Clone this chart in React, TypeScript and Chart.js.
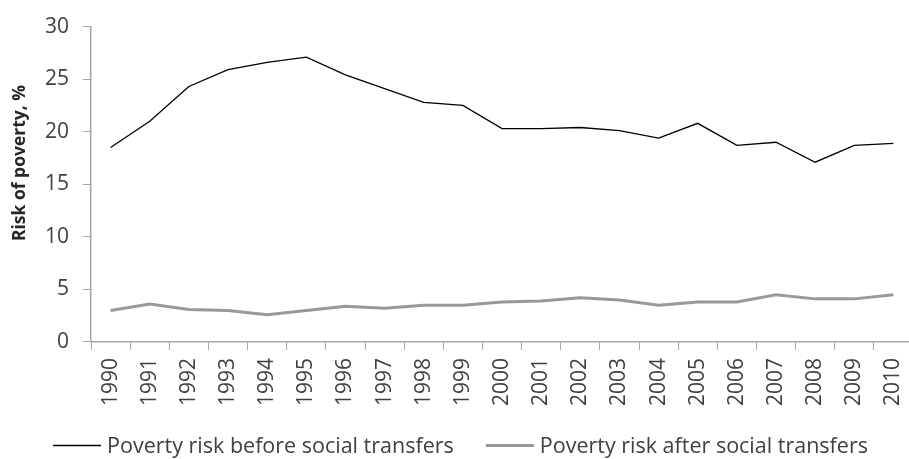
import React, { useEffect, useRef } from "react";
import { Chart, registerables } from "chart.js";

Chart.register(...registerables);

const years = [
  "1990", "1991", "1992", "1993", "1994", "1995", "1996", "1997", "1998", "1999", "2000",
  "2001", "2002", "2003", "2004", "2005", "2006", "2007", "2008", "2009", "2010",
];

const beforeTransfers = [
  18.5, 21.0, 24.3, 25.9, 26.6, 27.1, 25.4, 24.1, 22.8, 22.5, 20.3,
  20.3, 20.4, 20.1, 19.4, 20.8, 18.7, 19.0, 17.1, 18.7, 18.9,
];

const afterTransfers = [
  3.0, 3.6, 3.1, 3.0, 2.6, 3.0, 3.4, 3.2, 3.5, 3.5, 3.8,
  3.9, 4.2, 4.0, 3.5, 3.8, 3.8, 4.5, 4.1, 4.1, 4.5,
];

const yTicks = [0, 5, 10, 15, 20, 25, 30];
const yTitle = "Risk of poverty, %";
const seriesNames = ["Poverty risk before social transfers", "Poverty risk after social transfers"];

const FONT = "'Open Sans', sans-serif";
const TEXT = "#404040";
const AXIS = "#a6a6a6";
const W = 937;
const H = 459;

// Rotated bold y title and a bottom legend drawn on the canvas
const decorations = {
  id: "decorations",
  afterDraw(chart: any) {
    const ctx = chart.ctx as CanvasRenderingContext2D;
    ctx.save();
    // y-axis title
    ctx.font = `bold 17.5px ${FONT}`;
    ctx.fillStyle = "#262626";
    ctx.textAlign = "center";
    ctx.textBaseline = "middle";
    ctx.translate(20, 163);
    ctx.rotate(-Math.PI / 2);
    ctx.fillText(yTitle, 0, 0);
    ctx.restore();

    // legend
    ctx.save();
    ctx.font = `21.5px ${FONT}`;
    ctx.textBaseline = "middle";
    ctx.textAlign = "left";
    const sample = 48;
    const gapText = 6;
    const gapItem = 32;
    const items = chart.data.datasets.map((d: any) => ({
      label: d.label as string,
      color: d.borderColor as string,
      width: d.borderWidth as number,
      tw: ctx.measureText(d.label).width,
    }));
    const total =
      items.reduce((s: number, it: any) => s + sample + gapText + it.tw, 0) +
      gapItem * (items.length - 1);
    let x = 460.5 - total / 2;
    const y = 445.5;
    items.forEach((it: any) => {
      ctx.strokeStyle = it.color;
      ctx.lineWidth = it.width;
      ctx.beginPath();
      ctx.moveTo(x, y);
      ctx.lineTo(x + sample, y);
      ctx.stroke();
      x += sample + gapText;
      ctx.fillStyle = TEXT;
      ctx.fillText(it.label, x, y + 1);
      x += it.tw + gapItem;
    });
    ctx.restore();
  },
};

export default function App() {
  const ref = useRef<HTMLCanvasElement | null>(null);

  useEffect(() => {
    document.body.style.margin = "0";
    if (!ref.current) return;
    const chart = new Chart(ref.current, {
      type: "line",
      data: {
        labels: years,
        datasets: [
          {
            label: seriesNames[0],
            data: beforeTransfers,
            borderColor: "#000000",
            borderWidth: 1.3,
            pointRadius: 0,
            tension: 0,
          },
          {
            label: seriesNames[1],
            data: afterTransfers,
            borderColor: "#999999",
            borderWidth: 3,
            pointRadius: 0,
            tension: 0,
          },
        ],
      },
      options: {
        responsive: false,
        animation: false,
        layout: { padding: { left: 31, right: 24, top: 15, bottom: 45 } },
        plugins: {
          legend: { display: false },
          tooltip: { enabled: false },
        },
        scales: {
          x: {
            offset: true,
            grid: {
              offset: true,
              drawOnChartArea: false,
              drawTicks: true,
              tickLength: 8,
              color: AXIS,
            },
            border: { color: AXIS, width: 1.5 },
            ticks: {
              minRotation: 90,
              maxRotation: 90,
              padding: 8,
              color: TEXT,
              font: { family: FONT, size: 21 },
              autoSkip: false,
            },
          },
          y: {
            min: 0,
            max: 30,
            afterBuildTicks(scale: any) {
              scale.ticks = yTicks.map((v) => ({ value: v }));
            },
            grid: {
              drawOnChartArea: false,
              drawTicks: true,
              tickLength: 8,
              color: AXIS,
            },
            border: { color: AXIS, width: 1.5 },
            ticks: {
              padding: 14,
              color: TEXT,
              font: { family: FONT, size: 21 },
            },
          },
        },
      },
      plugins: [decorations],
    });
    return () => chart.destroy();
  }, []);

  return (
    <div style={{ width: 909, height: H, overflow: "hidden" }}>
      <canvas ref={ref} width={W} height={H} style={{ display: "block" }} />
    </div>
  );
}
